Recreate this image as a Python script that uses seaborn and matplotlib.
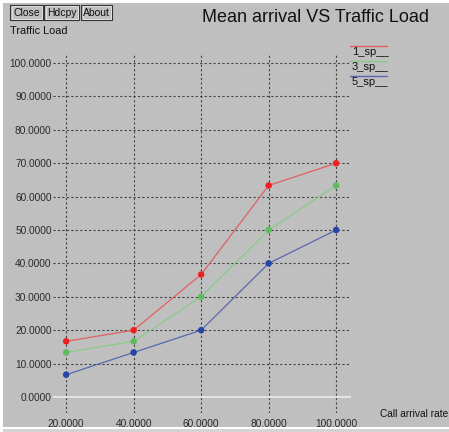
import pandas as pd
import matplotlib
matplotlib.use('Agg')
import matplotlib.pyplot as plt
import seaborn as sns
from matplotlib.patches import Rectangle
from matplotlib.lines import Line2D

# values
call_rate = [20, 40, 60, 80, 100]
sp1 = [16.67, 20.0, 36.67, 63.33, 70.0]
sp3 = [13.33, 16.67, 30.0, 50.0, 63.33]
sp5 = [6.67, 13.33, 20.0, 40.0, 50.0]
series_names = ['1_sp__', '3_sp__', '5_sp__']
y_ticks = [0, 10, 20, 30, 40, 50, 60, 70, 80, 90, 100]

line_colors = ['#e06060', '#88cc88', '#5868b0']
point_colors = ['#ee2020', '#60bb60', '#2844a8']

df = pd.DataFrame({
    'rate': call_rate * 3,
    'value': sp1 + sp3 + sp5,
    'series': [s for s in series_names for _ in call_rate],
})

W, H = 449, 432
BG = '#bfbfbf'
font = 'Liberation Sans'


def fx(x):
    return x / W


def fy(y):
    return 1 - y / H


sns.set_style('white')
plt.rcParams['font.family'] = [font, 'DejaVu Sans']

fig = plt.figure(figsize=(W / 100, H / 100), dpi=100)
fig.patch.set_facecolor('white')

# window background
fig.patches.append(Rectangle((fx(3), fy(427)), fx(446), 424 / H, transform=fig.transFigure,
                             facecolor=BG, edgecolor='none', zorder=-10))
fig.patches.append(Rectangle((fx(3), 0), fx(446), 3 / H, transform=fig.transFigure,
                             facecolor='#d4d4d4', edgecolor='none', zorder=-10))

ax = fig.add_axes([fx(53), fy(413), fx(351 - 53), (413 - 55) / H])
ax.set_facecolor(BG)
for s in ax.spines.values():
    s.set_visible(False)

sns.lineplot(data=df, x='rate', y='value', hue='series', palette=line_colors,
             linewidth=0.9, legend=False, ax=ax, zorder=3)
sns.scatterplot(data=df, x='rate', y='value', hue='series', palette=point_colors,
                s=22, marker='o', edgecolor='none', legend=False, ax=ax, zorder=4)

ax.set_xlim(16.1, 104.4)
ax.set_ylim(-4.8, 102.4)
ax.set_xticks(call_rate)
ax.set_yticks(y_ticks)
ax.set_xticklabels([f'{v:.4f}' for v in call_rate])
ax.set_yticklabels([f'{v:.4f}' for v in y_ticks])
ax.tick_params(axis='both', length=0, labelsize=7.3, colors='#2a2a2a')
ax.tick_params(axis='y', pad=1)
ax.tick_params(axis='x', pad=4)
ax.grid(True, color='#444444', linestyle=(0, (2, 2)), linewidth=0.8, zorder=1)
ax.axhline(0, color='#e2e2e2', linewidth=1.6, zorder=2)
ax.set_xlabel('')
ax.set_ylabel('')

# titles and axis names in the xgraph style
fig.text(fx(316), fy(18), 'Mean arrival VS Traffic Load', fontsize=13, ha='center', va='center', color='#111111')
fig.text(fx(10), fy(31), 'Traffic Load', fontsize=7.8, ha='left', va='center', color='#111111')
fig.text(fx(380), fy(414), 'Call arrival rate', fontsize=7.3, ha='left', va='center', color='#111111')

# legend at the right
for i, name in enumerate(series_names):
    y_line = 46 + 15 * i
    fig.add_artist(Line2D([fx(350), fx(387)], [fy(y_line), fy(y_line)], color=line_colors[i],
                          linewidth=1.0, transform=fig.transFigure))
    fig.text(fx(352), fy(y_line + 6), name, fontsize=8, ha='left', va='center', color='#111111')

# buttons
for label, x0, x1 in [('Close', 10, 43), ('Hdcpy', 44, 79), ('About', 81, 112)]:
    fig.patches.append(Rectangle((fx(x0), fy(20)), fx(x1 - x0), 15 / H, transform=fig.transFigure,
                                 facecolor=BG, edgecolor='#333333', linewidth=0.8))
    fig.patches.append(Rectangle((fx(x0 + 1.5), fy(18.5)), fx(x1 - x0 - 3), 12 / H, transform=fig.transFigure,
                                 facecolor='none', edgecolor='#e8e8e8', linewidth=0.6))
    fig.text(fx((x0 + x1) / 2), fy(12.5), label, fontsize=7.5, ha='center', va='center', color='#111111')

fig.savefig('out.png', dpi=100, facecolor=fig.get_facecolor())
